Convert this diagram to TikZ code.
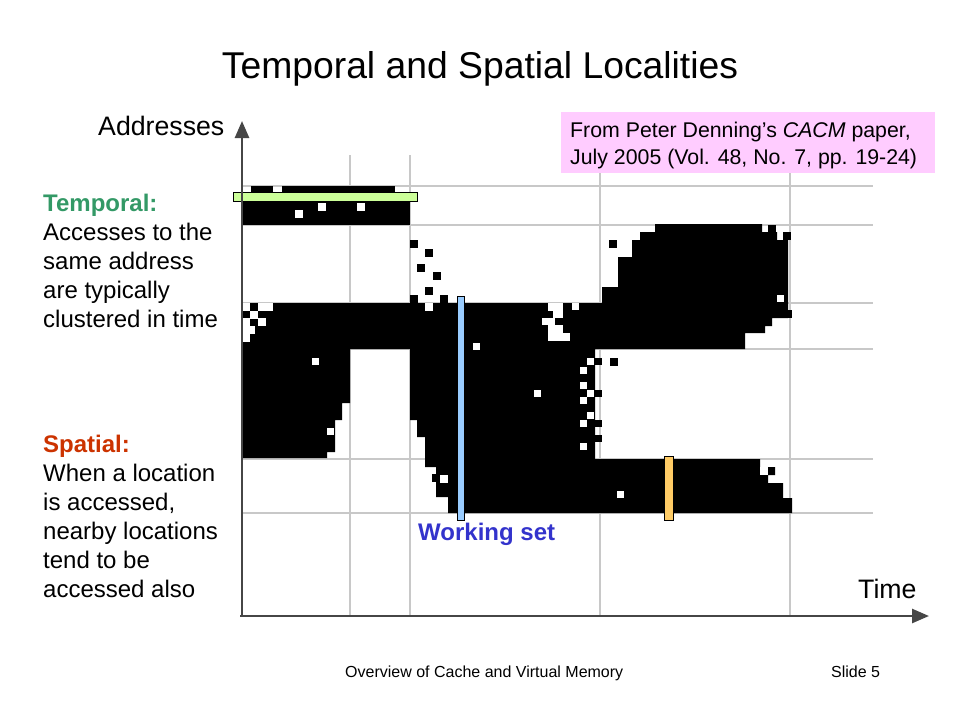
\documentclass[tikz,border=0pt]{standalone}
\usepackage{fontspec}
\setmainfont{Liberation Sans}
\usetikzlibrary{arrows.meta}
\definecolor{tgreen}{RGB}{51,153,102}
\definecolor{sred}{RGB}{204,51,0}
\definecolor{wsblue}{RGB}{51,51,204}
\definecolor{gridgray}{RGB}{200,200,200}
\definecolor{axisgray}{RGB}{70,70,70}
\definecolor{pinkbox}{RGB}{255,204,255}
\definecolor{barGreen}{RGB}{204,255,153}
\definecolor{barBlue}{RGB}{153,204,255}
\definecolor{barOrange}{RGB}{255,204,102}
\newcommand\Wsq[3]{\fill[white] (#1,#2) rectangle ++(#3,#3);}
\newcommand\Bsq[3]{\fill[black] (#1,#2) rectangle ++(#3,#3);}
\tikzset{
  txt/.style={inner sep=0pt, anchor=base west, font=\fontsize{24}{29}\selectfont},
  hdr/.style={txt, font=\fontsize{24}{29}\selectfont\bfseries},
  axlbl/.style={inner sep=0pt, anchor=base west, font=\fontsize{26.7}{32}\selectfont},
  foot/.style={inner sep=0pt, anchor=base west, font=\fontsize{16}{19}\selectfont},
  pinktxt/.style={inner sep=0pt, anchor=base west, font=\fontsize{21.3}{26}\selectfont},
  gridline/.style={gridgray, line width=1.6pt},
  axisline/.style={axisgray, line width=2.6pt, -{Triangle[width=14pt,length=17pt]}},
  bar/.style={draw=black, line width=0.8pt}
}
\begin{document}
\begin{tikzpicture}[x=1pt,y=-1pt]
\useasboundingbox (0,0) rectangle (960,720);
\fill[white] (0,0) rectangle (960,720);

% title
\node[inner sep=0pt, anchor=base, font=\fontsize{37.3}{44}\selectfont] (title) at (480,78) {Temporal and Spatial Localities};

% grid
\foreach \gx in {350,410,600,790} \draw[gridline] (\gx,155) -- (\gx,615);
\foreach \gy in {186,225,303,349,459,513} \draw[gridline] (242,\gy) -- (873,\gy);

% pink source box
\fill[pinkbox] (561,112) rectangle (935,173);
\node[pinktxt] (src1) at (570,137) {From Peter Denning’s \textit{CACM} paper,};
\node[pinktxt] (src2) at (570,164) {July 2005 (Vol. 48, No. 7, pp. 19-24)};

% top band
\fill[black] (242,193) rectangle (410,225);
\fill[black] (251,186) rectangle (273,193);
\fill[black] (282,186) rectangle (395,193);
\Wsq{295}{210}{8}\Wsq{318}{203}{8}\Wsq{357}{203}{8}

% scattered squares
\Bsq{410}{240}{8}\Bsq{425}{249}{8}\Bsq{417}{264}{8}\Bsq{433}{272}{8}
\Bsq{425}{287}{8}\Bsq{410}{295}{8}\Bsq{440}{295}{8}\Bsq{609}{240}{8}
\Bsq{610}{358}{8}

% main region
\fill[black] (242,303) -- (602,303) -- (602,287) -- (618,287) -- (618,257)
 -- (632,257) -- (632,240) -- (640,240) -- (640,232) -- (655,232) -- (655,224)
 -- (762,224) -- (762,232) -- (777,232) -- (777,240) -- (788,240) -- (788,318)
 -- (772,318) -- (772,326) -- (765,326) -- (765,333) -- (745,333) -- (745,349)
 -- (595,349) -- (595,459) -- (760,459) -- (760,467) -- (775,467) -- (775,475)
 -- (768,475) -- (768,483) -- (783,483) -- (783,498) -- (792,498) -- (792,513)
 -- (448,513) -- (448,497) -- (436,497) -- (436,467) -- (425,467) -- (425,437)
 -- (417,437) -- (417,420) -- (410,420) -- (410,349) -- (350,349) -- (350,403)
 -- (342,403) -- (342,420) -- (335,420) -- (335,452) -- (327,452) -- (327,458)
 -- (242,458) -- cycle;

% ragged edges
\Bsq{768}{225}{8}\Bsq{783}{232}{8}\Bsq{784}{310}{8}
\Bsq{595}{358}{7}\Bsq{595}{390}{7}\Bsq{595}{420}{7}\Bsq{595}{435}{7}
\Bsq{432}{474}{8}
% white specks and checkers
\Wsq{242}{303}{8}\fill[white] (258,303) rectangle (273,311);
\Wsq{250}{311}{8}\Wsq{242}{318}{8}\Wsq{258}{318}{8}
\fill[white] (242,326) rectangle (255,334);\Wsq{242}{334}{8}
\fill[white] (548,303) rectangle (563,311);\Wsq{572}{303}{7}
\fill[white] (553,311) rectangle (563,318);
\fill[white] (542,318) rectangle (555,325);
\fill[white] (548,325) rectangle (563,333);
\fill[white] (548,333) rectangle (570,341);
\Wsq{425}{303}{8}\Wsq{473}{343}{7}\Wsq{312}{358}{7}
\Wsq{534}{390}{7}\Wsq{617}{491}{7}
\Wsq{587}{358}{7}\Wsq{580}{367}{7}\Wsq{580}{382}{7}\Wsq{587}{390}{7}
\Wsq{580}{397}{7}\Wsq{587}{412}{7}\Wsq{580}{420}{7}\Wsq{580}{443}{7}
\Wsq{760}{467}{8}\Wsq{777}{295}{7}\Wsq{327}{428}{7}\Wsq{440}{475}{8}

% bars
\filldraw[bar, fill=barGreen] (233,192) rectangle (417,201);
\filldraw[bar, fill=barBlue] (457,296) rectangle (464,520);
\filldraw[bar, fill=barOrange] (664,456) rectangle (673,520);

% axes
\draw[axisline] (242,616) -- (242,121);
\draw[axisline] (240,616) -- (929,616);
\node[axlbl] (addr) at (98,135) {Addresses};
\node[axlbl] (time) at (858,598) {Time};

% left texts
\node[hdr, text=tgreen] (th) at (43,211) {Temporal:};
\node[txt] (t1) at (43,240) {Accesses to the};
\node[txt] (t2) at (43,269) {same address};
\node[txt] (t3) at (43,298) {are typically};
\node[txt] (t4) at (43,327) {clustered in time};
\node[hdr, text=sred] (sh) at (43,452) {Spatial:};
\node[txt] (s1) at (43,481) {When a location};
\node[txt] (s2) at (43,510) {is accessed,};
\node[txt] (s3) at (43,539) {nearby locations};
\node[txt] (s4) at (43,568) {tend to be};
\node[txt] (s5) at (43,597) {accessed also};

\node[hdr, text=wsblue] (ws) at (418,540) {Working set};

% footer
\node[foot] (f1) at (345,677) {Overview of Cache and Virtual Memory};
\node[foot] (f2) at (831,677) {Slide 5};
\end{tikzpicture}
\end{document}
